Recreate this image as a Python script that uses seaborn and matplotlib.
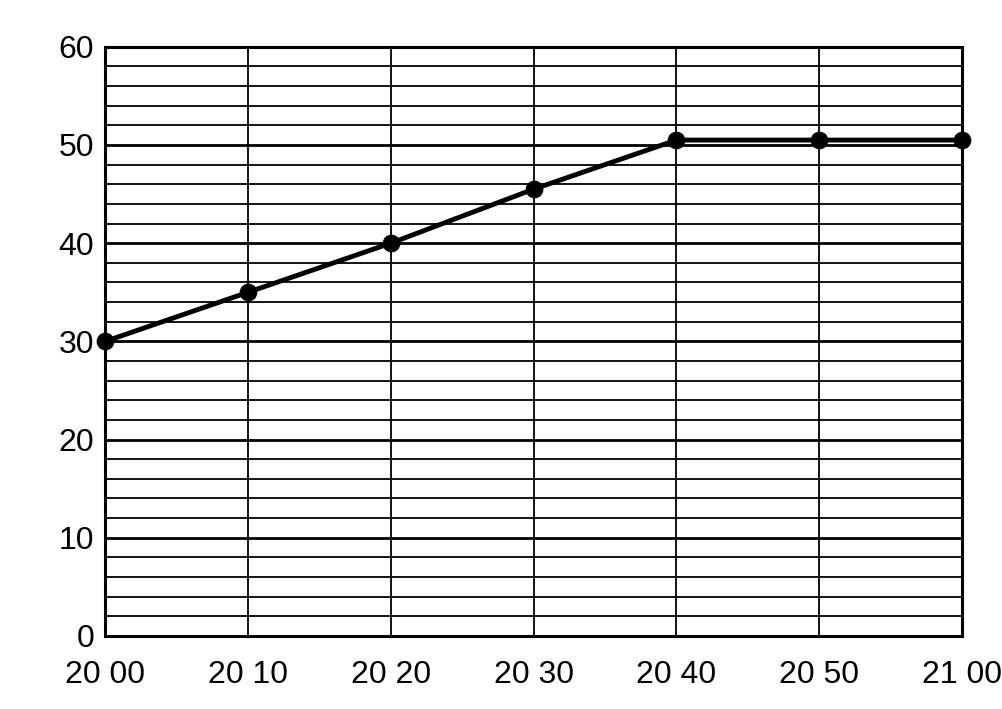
import matplotlib
matplotlib.use("Agg")
import matplotlib.pyplot as plt
import seaborn as sns
import pandas as pd
import numpy as np

minutes = [0, 10, 20, 30, 40, 50, 60]
time_labels = ["20 00", "20 10", "20 20", "20 30", "20 40", "20 50", "21 00"]
values = [30, 35, 40, 45.5, 50.5, 50.5, 50.5]
y_ticks = [0, 10, 20, 30, 40, 50, 60]

sns.set_theme(style="white")
plt.rcParams['font.family'] = ['Liberation Sans', 'DejaVu Sans']

df = pd.DataFrame({"minute": minutes, "value": values})

fig = plt.figure(figsize=(10.02, 7.09), dpi=100)
ax = fig.add_axes([0.105, 0.103, 0.855, 0.831])

# grid
for yv in np.arange(0, 61, 2):
    major = (yv % 10 == 0)
    ax.axhline(yv, color="black", lw=2.0 if major else 1.3, zorder=1)
for xv in minutes:
    ax.axvline(xv, color="black", lw=1.3, zorder=1)

sns.lineplot(data=df, x="minute", y="value", ax=ax, color="black", lw=3.5,
             marker="o", markersize=12, markeredgecolor="black", zorder=3,
             clip_on=False)

ax.set_xlim(0, 60)
ax.set_ylim(0, 60)
ax.set_xticks(minutes)
ax.set_xticklabels(time_labels)
ax.set_yticks(y_ticks)
ax.set_xlabel("")
ax.set_ylabel("")
ax.tick_params(axis="both", labelsize=23, colors="black", length=0)
ax.tick_params(axis="x", pad=17)
ax.tick_params(axis="y", pad=8)
for s in ax.spines.values():
    s.set_color("black")
    s.set_linewidth(2.2)

fig.savefig("out.png", dpi=100)
